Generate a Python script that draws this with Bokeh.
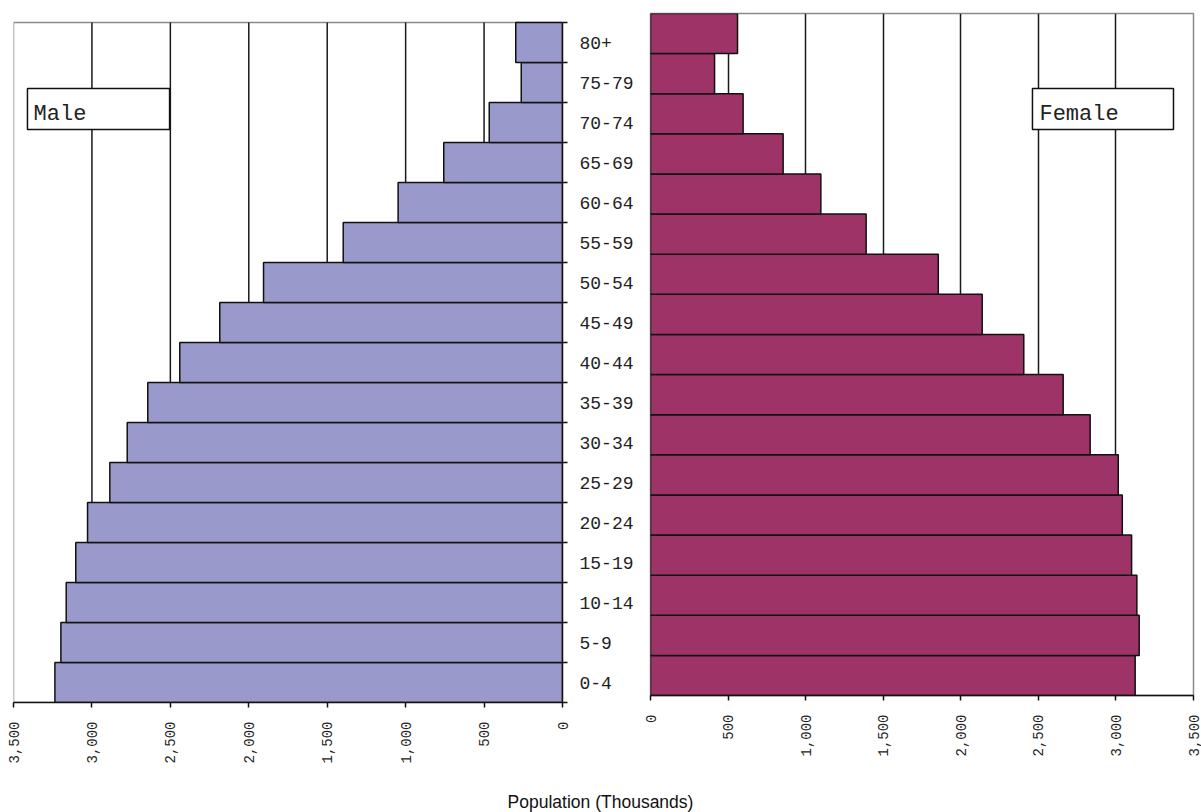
import math
from bokeh.plotting import figure
from bokeh.layouts import row, column
from bokeh.models import (Range1d, LinearAxis, FixedTicker, NumeralTickFormatter,
                          CustomJSTickFormatter, BoxAnnotation, Label)
from bokeh.embed import file_html
from bokeh.resources import INLINE

# ---------------- data ----------------
age_groups = ["0-4", "5-9", "10-14", "15-19", "20-24", "25-29", "30-34", "35-39",
              "40-44", "45-49", "50-54", "55-59", "60-64", "65-69", "70-74",
              "75-79", "80+"]
male = [3236, 3198, 3164, 3103, 3028, 2886, 2775, 2644, 2440, 2185, 1906, 1398,
        1048, 757, 467, 263, 298]
female = [3124, 3150, 3135, 3101, 3041, 3015, 2834, 2660, 2406, 2138, 1855, 1390,
          1098, 855, 597, 413, 561]
x_ticks = [0, 500, 1000, 1500, 2000, 2500, 3000, 3500]
grid_ticks = [500, 1000, 1500, 2000, 2500, 3000]
x_max = 3500
x_title = "Population (Thousands)"

MALE_COLOR = "#9999CC"
FEMALE_COLOR = "#9D3366"
MONO = "Liberation Mono"
BORDER_GREY = "#8c8c8c"
GRID_COLOR = "#1a1a1a"

n = len(age_groups)
ypos = [i + 0.5 for i in range(n)]


def style_bottom_axis(ax):
    ax.ticker = FixedTicker(ticks=x_ticks)
    ax.formatter = NumeralTickFormatter(format="0,0")
    ax.major_label_orientation = math.pi / 2
    ax.major_label_text_font = MONO
    ax.major_label_text_font_size = "14px"
    ax.major_label_text_color = "#222222"
    ax.major_label_standoff = 14
    ax.axis_line_color = "#111111"
    ax.axis_line_width = 1.5
    ax.major_tick_line_color = "#111111"
    ax.major_tick_line_width = 1.5
    ax.major_tick_out = 5
    ax.major_tick_in = 0
    ax.minor_tick_line_color = None


def base_fig(**kw):
    p = figure(toolbar_location=None, output_backend="svg",
               y_axis_location=None, x_axis_location="below", **kw)
    p.background_fill_color = "white"
    p.border_fill_color = "white"
    p.ygrid.visible = False
    style_bottom_axis(p.xaxis[0])
    return p


# ---------------- male (left) ----------------
# frame: x 13..562, y 13..702 ; rows of 40px from 702 up to 22
pm = base_fig(frame_width=549, frame_height=689,
              min_border_left=13, min_border_right=83,
              min_border_top=13, min_border_bottom=76,
              x_range=Range1d(x_max, 0), y_range=Range1d(0, n + 9 / 40))
pm.outline_line_color = None
pm.xgrid.visible = False

# panel border (grey), under axes and bars
pm.add_layout(BoxAnnotation(top=n, fill_alpha=0.0, line_color=BORDER_GREY,
                            line_alpha=1.0, line_width=1.5, level="underlay"))
# vertical grid lines, limited to the panel height
pm.segment(x0=grid_ticks, y0=[0] * len(grid_ticks), x1=grid_ticks,
           y1=[n] * len(grid_ticks), line_color=GRID_COLOR, line_width=1.5)

pm.hbar(y=ypos, height=1, left=0, right=male, fill_color=MALE_COLOR,
        line_color="#111111", line_width=1.5)

cat_axis = LinearAxis(
    ticker=FixedTicker(ticks=ypos, minor_ticks=list(range(n + 1))),
    formatter=CustomJSTickFormatter(args=dict(labels=age_groups),
                                    code="return labels[Math.floor(tick)] || '';"),
    bounds=(0, n))
cat_axis.major_tick_out = 0
cat_axis.major_tick_in = 0
cat_axis.major_tick_line_color = None
cat_axis.minor_tick_out = 5
cat_axis.minor_tick_in = 0
cat_axis.minor_tick_line_color = "#111111"
cat_axis.minor_tick_line_width = 1.5
cat_axis.axis_line_color = "#111111"
cat_axis.axis_line_width = 1.5
cat_axis.major_label_standoff = 12
cat_axis.major_label_text_font = MONO
cat_axis.major_label_text_font_size = "18px"
cat_axis.major_label_text_color = "#222222"
pm.add_layout(cat_axis, "right")

pm.add_layout(BoxAnnotation(left=3411, right=2505, top=15.35, bottom=14.325,
                            fill_color="white", fill_alpha=1.0,
                            line_color="#111111", line_alpha=1.0, line_width=1.5))
pm.add_layout(Label(x=3372, y=14.71, text="Male", text_font=MONO,
                    text_font_size="22px", text_color="#222222",
                    text_baseline="alphabetic", text_align="left"))

# ---------------- female (right) ----------------
# frame: x 650..1193, y 13..695
pf = base_fig(frame_width=543, frame_height=682,
              min_border_left=5, min_border_right=8,
              min_border_top=13, min_border_bottom=76,
              x_range=Range1d(0, x_max), y_range=Range1d(0, n))
pf.outline_line_color = BORDER_GREY
pf.outline_line_width = 1.5
pf.xgrid.ticker = FixedTicker(ticks=grid_ticks)
pf.xgrid.grid_line_color = GRID_COLOR
pf.xgrid.grid_line_width = 1.5

pf.hbar(y=ypos, height=1, left=0, right=female, fill_color=FEMALE_COLOR,
        line_color="#111111", line_width=1.5)

pf.add_layout(BoxAnnotation(left=2462, right=3371, top=15.13, bottom=14.11,
                            fill_color="white", fill_alpha=1.0,
                            line_color="#111111", line_alpha=1.0, line_width=1.5))
pf.add_layout(Label(x=2507, y=14.49, text="Female", text_font=MONO,
                    text_font_size="22px", text_color="#222222",
                    text_baseline="alphabetic", text_align="left"))

# ---------------- title strip ----------------
pt = figure(width=1201, height=34, x_range=Range1d(0, 1201), y_range=Range1d(0, 34),
            min_border=0, toolbar_location=None, output_backend="svg",
            x_axis_location=None, y_axis_location=None)
pt.outline_line_color = None
pt.xgrid.visible = False
pt.ygrid.visible = False
pt.add_layout(Label(x=600, y=11, text=x_title, text_font="Liberation Sans",
                    text_font_size="17.5px", text_color="#111111",
                    text_align="center", text_baseline="alphabetic"))

layout = column(row(pm, pf), pt)
open("out.html", "w").write(file_html(layout, INLINE))
